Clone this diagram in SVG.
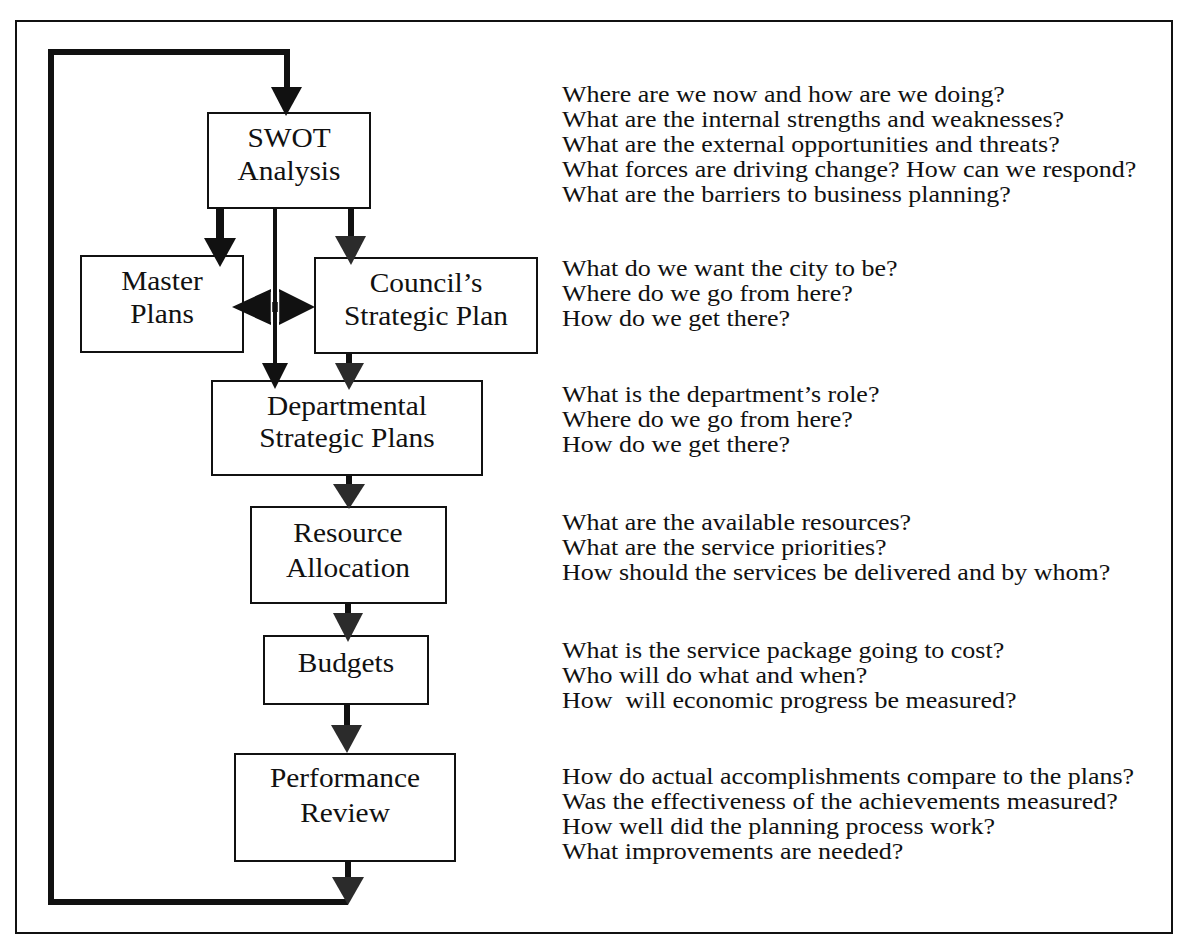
<svg xmlns="http://www.w3.org/2000/svg" width="1193" height="945" viewBox="0 0 1193 945">
<style>
.box{fill:#fff;stroke:#111;stroke-width:2}
.lbl{font-family:"Liberation Serif","Times New Roman",serif;font-size:28px;fill:#111;text-anchor:middle}
.q{font-family:"Liberation Serif","Times New Roman",serif;font-size:23px;fill:#111}
.sh{fill:none;stroke:#111;stroke-linejoin:miter;stroke-linecap:butt}
.hd{fill:#111}
.hg{fill:#2b2b2b}
</style>
<rect x="0" y="0" width="1193" height="945" fill="#fff"/>
<rect id="frame" x="16" y="21" width="1156" height="912" fill="none" stroke="#111" stroke-width="2"/>

<g id="swot">
<rect class="box" x="208" y="113" width="162" height="95"/>
<text class="lbl" transform="translate(289,147) scale(1.05,1)">SWOT</text>
<text class="lbl" transform="translate(289,180) scale(1.05,1)">Analysis</text>
</g>
<g id="master">
<rect class="box" x="81" y="256" width="162" height="96"/>
<text class="lbl" transform="translate(162,290) scale(1.05,1)">Master</text>
<text class="lbl" transform="translate(162,323) scale(1.05,1)">Plans</text>
</g>
<g id="council">
<rect class="box" x="315" y="258" width="222" height="95"/>
<text class="lbl" transform="translate(426,292) scale(1.05,1)">Council’s</text>
<text class="lbl" transform="translate(426,325) scale(1.05,1)">Strategic Plan</text>
</g>
<g id="departmental">
<rect class="box" x="212" y="381" width="270" height="94"/>
<text class="lbl" transform="translate(347,415) scale(1.05,1)">Departmental</text>
<text class="lbl" transform="translate(347,447) scale(1.05,1)">Strategic Plans</text>
</g>
<g id="resource">
<rect class="box" x="251" y="507" width="195" height="96"/>
<text class="lbl" transform="translate(348,542) scale(1.05,1)">Resource</text>
<text class="lbl" transform="translate(348,577) scale(1.05,1)">Allocation</text>
</g>
<g id="budgets">
<rect class="box" x="264" y="636" width="164" height="68"/>
<text class="lbl" transform="translate(346,672) scale(1.05,1)">Budgets</text>
</g>
<g id="performance">
<rect class="box" x="235" y="754" width="220" height="107"/>
<text class="lbl" transform="translate(345,787) scale(1.05,1)">Performance</text>
<text class="lbl" transform="translate(345,822) scale(1.05,1)">Review</text>
</g>

<g id="connectors">
<polyline class="sh" stroke-width="6" points="348,902 51,902 51,52 287,52 287,89"/>
<polygon class="hd" points="271,87 302,87 286,116"/>
<line class="sh" stroke-width="8" x1="220" y1="208" x2="220" y2="240"/>
<polygon class="hd" points="204,238 236,238 220,267"/>
<line class="sh" stroke-width="4" x1="275" y1="208" x2="275" y2="365"/>
<polygon class="hd" points="262,363 288,363 275,389"/>
<line class="sh" stroke-width="6" x1="351" y1="208" x2="351" y2="238"/>
<polygon class="hg" points="335,236 366,236 351,265"/>
<rect class="hd" x="268" y="302" width="14" height="10"/>
<polygon class="hd" points="232,307 271,289 271,325"/>
<polygon class="hd" points="315,307 279,289 279,325"/>
<line stroke="#fff" stroke-width="1.5" x1="271.5" y1="292" x2="271.5" y2="322"/>
<line stroke="#fff" stroke-width="1.5" x1="278.5" y1="292" x2="278.5" y2="322"/>
<line class="sh" stroke-width="6" x1="349" y1="353" x2="349" y2="365"/>
<polygon class="hg" points="335,363 364,363 349,390"/>
<line class="sh" stroke-width="6" x1="349" y1="475" x2="349" y2="486"/>
<polygon class="hg" points="333,484 365,484 349,509"/>
<line class="sh" stroke-width="6" x1="348" y1="603" x2="348" y2="615"/>
<polygon class="hg" points="333,613 363,613 348,642"/>
<line class="sh" stroke-width="6" x1="347" y1="704" x2="347" y2="727"/>
<polygon class="hg" points="331,725 362,725 347,753"/>
<line class="sh" stroke-width="6" x1="348" y1="861" x2="348" y2="879"/>
<polygon class="hg" points="332,877 364,877 348,905"/>
</g>

<g id="questions" transform="translate(562,0) scale(1.13,1)">
<text class="q" x="0" y="102">Where are we now and how are we doing?</text>
<text class="q" x="0" y="127">What are the internal strengths and weaknesses?</text>
<text class="q" x="0" y="152">What are the external opportunities and threats?</text>
<text class="q" x="0" y="177">What forces are driving change? How can we respond?</text>
<text class="q" x="0" y="202">What are the barriers to business planning?</text>
<text class="q" x="0" y="276">What do we want the city to be?</text>
<text class="q" x="0" y="301">Where do we go from here?</text>
<text class="q" x="0" y="326">How do we get there?</text>
<text class="q" x="0" y="402">What is the department’s role?</text>
<text class="q" x="0" y="427">Where do we go from here?</text>
<text class="q" x="0" y="452">How do we get there?</text>
<text class="q" x="0" y="530">What are the available resources?</text>
<text class="q" x="0" y="555">What are the service priorities?</text>
<text class="q" x="0" y="580">How should the services be delivered and by whom?</text>
<text class="q" x="0" y="658">What is the service package going to cost?</text>
<text class="q" x="0" y="683">Who will do what and when?</text>
<text class="q" x="0" y="708" xml:space="preserve">How  will economic progress be measured?</text>
<text class="q" x="0" y="784">How do actual accomplishments compare to the plans?</text>
<text class="q" x="0" y="809">Was the effectiveness of the achievements measured?</text>
<text class="q" x="0" y="834">How well did the planning process work?</text>
<text class="q" x="0" y="859">What improvements are needed?</text>
</g>
</svg>
